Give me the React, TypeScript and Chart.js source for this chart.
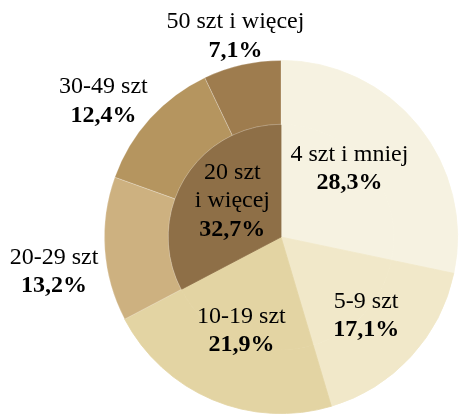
import React, { useEffect, useRef } from "react";
import { Chart, registerables } from "chart.js";

Chart.register(...registerables);

const categories = ["4 szt i mniej", "5-9 szt", "10-19 szt", "20-29 szt", "30-49 szt", "50 szt i więcej"];
const shares = [28.3, 17.1, 21.9, 13.2, 12.4, 7.1];
const shareLabels = ["28,3%", "17,1%", "21,9%", "13,2%", "12,4%", "7,1%"];
const groupValues = [28.3, 17.1, 21.9, 32.7];
const groupTitle = ["20 szt", "i więcej"];
const groupLabel = "32,7%";

const colors = ["#f6f2e1", "#f1e8c9", "#e3d4a3", "#cdb180", "#b5955f", "#9e7c4e"];
const groupColor = "#8e6f47";
const seam = "rgba(255,255,255,0.3)";

// label placement: radius factor (of outer radius) along slice mid angle, plus small shift
const labelPlace = [
  { f: 0.55, dx: -7, dy: -7 },
  { f: 0.656, dx: 0, dy: 0 },
  { f: 0.577, dx: 0, dy: 0 },
  { f: 1.288, dx: 0, dy: 19 },
  { f: 1.264, dx: -12, dy: 14 },
  { f: 1.166, dx: 0, dy: 0 },
];
const groupPlace = { f: 0.535, dx: 3, dy: -5 };

const FONT = "'Liberation Serif', 'Times New Roman', serif";
const LINE = 28.5;

const labelPlugin = {
  id: "sliceLabels",
  afterDraw(chart: any) {
    const ctx = chart.ctx;
    const outer = chart.getDatasetMeta(0).data;
    const inner = chart.getDatasetMeta(1).data;
    ctx.save();
    ctx.fillStyle = "#000";
    ctx.textAlign = "center";
    ctx.textBaseline = "middle";
    const drawLines = (x: number, y: number, lines: { t: string; b: boolean }[]) => {
      const n = lines.length;
      lines.forEach((ln, i) => {
        ctx.font = (ln.b ? "bold " : "") + "24px " + FONT;
        ctx.fillText(ln.t, x, y + (i - (n - 1) / 2) * LINE);
      });
    };
    outer.forEach((arc: any, i: number) => {
      const p = arc.getProps(["x", "y", "startAngle", "endAngle", "outerRadius"], true);
      const mid = (p.startAngle + p.endAngle) / 2;
      const pl = labelPlace[i];
      const x = p.x + Math.cos(mid) * p.outerRadius * pl.f + pl.dx;
      const y = p.y + Math.sin(mid) * p.outerRadius * pl.f + pl.dy;
      drawLines(x, y, [
        { t: categories[i], b: false },
        { t: shareLabels[i], b: true },
      ]);
    });
    const g = inner[3].getProps(["x", "y", "startAngle", "endAngle", "outerRadius"], true);
    const gm = (g.startAngle + g.endAngle) / 2;
    const gx = g.x + Math.cos(gm) * g.outerRadius * groupPlace.f + groupPlace.dx;
    const gy = g.y + Math.sin(gm) * g.outerRadius * groupPlace.f + groupPlace.dy;
    drawLines(gx, gy, [
      { t: groupTitle[0], b: false },
      { t: groupTitle[1], b: false },
      { t: groupLabel, b: true },
    ]);
    ctx.restore();
  },
};

export default function App() {
  const ref = useRef<HTMLCanvasElement | null>(null);
  useEffect(() => {
    let chart: any = null;
    let cancelled = false;
    const make = () => {
      if (cancelled || !ref.current) return;
      chart = new Chart(ref.current, {
        type: "doughnut",
        data: {
          labels: categories,
          datasets: [
            {
              data: shares,
              backgroundColor: colors,
              borderColor: [colors[0], colors[1], colors[2], seam, seam, seam],
              borderWidth: 0.8,
              weight: 64,
            },
            {
              data: groupValues,
              backgroundColor: [colors[0], colors[1], colors[2], groupColor],
              borderColor: [colors[0], colors[1], colors[2], groupColor],
              borderWidth: 0.8,
              weight: 113,
            },
          ],
        },
        options: {
          responsive: true,
          maintainAspectRatio: false,
          animation: false,
          cutout: 0,
          layout: { padding: { left: 104, right: 2, top: 60, bottom: 1 } },
          plugins: {
            legend: { display: false },
            tooltip: { enabled: false },
          },
          events: [],
        },
        plugins: [labelPlugin],
      });
    };
    const fonts: any = (document as any).fonts;
    if (fonts && fonts.load) {
      Promise.all([
        fonts.load("24px 'Liberation Serif'"),
        fonts.load("bold 24px 'Liberation Serif'"),
      ])
        .catch(() => null)
        .then(() => make());
    } else {
      make();
    }
    return () => {
      cancelled = true;
      if (chart) chart.destroy();
    };
  }, []);
  return (
    <div style={{ position: "absolute", left: 0, top: 0, width: 460, height: 415, background: "#fff" }}>
      <canvas ref={ref} />
    </div>
  );
}
